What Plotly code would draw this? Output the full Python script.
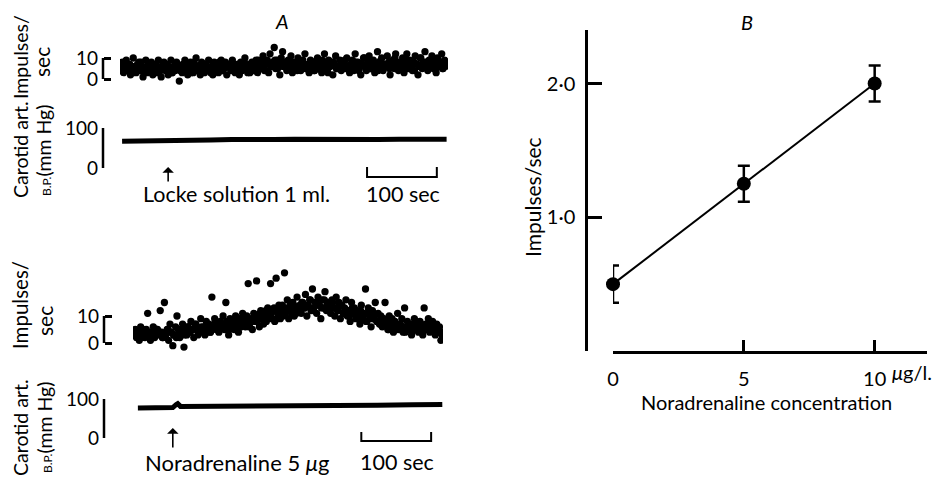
import plotly.graph_objects as go

# ---------------- data ----------------
SAMPLE_S = 2  # seconds between plotted impulse-rate samples (main series)
SAMPLE_S2 = 4  # seconds between samples of the interleaved series

# Panel A, upper record (Locke solution 1 ml) - impulses/sec
imp_top = [5,8,3,6,9,4,7,2,6,10,5,3,7,8,4,6,1,5,9,3,
           6,4,8,2,5,7,3,9,5,1,6,8,4,7,2,5,9,3,6,4,
           8,5,-1,6,3,7,9,4,2,6,8,5,3,7,10,4,6,2,8,5,
           3,7,5,9,4,6,2,8,5,7,3,6,9,4,5,8,2,6,7,4,
           9,5,3,7,6,2,8,4,6,10,5,3,7,5,8,4,6,9,3,7,
           5,8,11,4,7,9,3,12,6,8,15,5,9,7,2,10,13,6,8,4,
           9,7,11,3,6,8,5,10,7,4,8,6,12,5,7,3,9,6,8,4,
           7,10,5,8,3,6,12,7,4,9,6,8,2,7,11,5,6,9,4,7,
           8,5,10,6,3,7,9,4,12,6,8,5,2,7,10,6,4,8,11,5,
           7,9,3,6,13,8,5,10,4,7,6,11,8,2,6,9,5,12,7,4,
           8,6,10,3,7,12,5,9,6,4,8,11,7,2,6,10,5,8,13,6,
           4,9,7,11,5,8,3,10,6,7,12,5,9,6,8]
imp_top2 = [4,6,5,7,3,6,5,8,4,6,7,3,5,6,4,7,5,6,3,5,
            6,4,7,5,6,3,8,5,6,4,7,5,3,6,5,8,4,6,7,5,
            6,4,7,5,8,6,3,7,5,9,6,8,4,7,6,9,5,8,6,7,
            5,8,6,4,7,9,5,6,8,4,7,5,9,6,3,7,8,5,6,7,
            9,5,7,6,8,4,7,10,6,5,8,7,4,9,6,7,5,8,10,6,
            7,5,9,6,8,4,7,10,6,8,5,7,9,6,8,5,7]
# Panel A, upper record - carotid blood pressure (mm Hg)
bp_top_t = [3, 20, 40, 60, 69, 75, 100, 130, 160, 190, 220, 250, 280, 310, 340, 370, 400, 430, 468]
bp_top = [67, 67, 68, 68, 70, 68, 69, 70, 71, 70, 71, 72, 71, 72, 72, 71, 72, 72, 72]

# Panel A, lower record (Noradrenaline 5 ug) - impulses/sec
imp_bot = [3,5,2,4,1,6,3,4,2,5,11,3,1,4,6,2,5,5,3,12,
           4,2,15,3,5,1,7,4,-1,3,6,10,5,2,4,7,-1.5,5,3,6,
           4,8,5,2,7,6,3,5,9,4,6,3,8,5,7,4,17,6,9,5,
           7,4,8,6,10,5,15,7,3,9,6,8,5,10,7,4,9,6,11,8,
           6,10,22,7,9,5,11,8,23,10,6,12,9,7,11,8,13,10,22,9,
           12,8,24,11,14,9,13,10,26,12,16,9,14,11,15,10,13,17,12,14,
           11,15,13,18,10,14,16,12,20,13,15,11,17,14,9,16,13,19,12,15,
           14,11,16,13,10,17,12,15,9,14,11,13,16,10,12,8,15,11,13,9,
           12,10,7,14,9,11,20,8,13,10,6,12,9,15,8,11,7,10,6,9,
           15,8,5,10,7,9,4,8,6,11,5,7,9,4,13,6,8,5,7,3,
           6,9,5,7,4,8,6,3,13,7,5,9,4,6,8,5,3,7,4,6,1,3]
imp_bot2 = [3,4,2,5,3,4,2,3,5,4,2,3,5,4,3,2,4,
            5,3,6,4,5,7,4,6,5,7,4,6,8,5,7,6,8,5,7,9,6,8,7,9,6,8,
            10,8,11,9,12,10,11,13,9,12,14,11,13,12,14,11,13,
            15,13,14,16,12,15,14,13,16,14,12,15,
            13,12,14,11,12,10,13,11,9,12,10,8,11,9,10,8,7,9,
            7,5,6,8,5,7,6,4,6,5,7,5,6,4,5,7,5,6,4,5,4]
bp_bot_t = [7, 20, 40, 50, 57, 62, 64, 68, 80, 100, 150, 200, 250, 300, 350, 400, 443]
bp_bot = [77, 77, 76, 77, 78, 86, 88, 81, 81, 82, 82, 83, 83, 84, 84, 85, 86]

inject_top_t = 69    # s, Locke solution
inject_bot_t = 57    # s, noradrenaline
scale_top_start = 354
scale_bot_start = 327
scale_len = 100      # s

# Panel B
conc = [0, 5, 10]
rate = [0.50, 1.25, 2.00]
rate_err = [0.14, 0.135, 0.135]

# ---------------- figure ----------------
W, H = 940, 484
OFF = 8  # the page body offsets the plot by 8 px; positions below are screen pixels
FONT = "Lato"
def px(x):
    return (x - OFF) / W
def py(y):
    return 1 - (y - OFF) / H

t_top = [SAMPLE_S * i + 1 for i in range(len(imp_top))]
t_top2 = [SAMPLE_S2 * i + 2 for i in range(len(imp_top2))]
t_bot = [SAMPLE_S * i + 1 for i in range(len(imp_bot))]
t_bot2 = [SAMPLE_S2 * i + 2 for i in range(len(imp_bot2))]

DOT = dict(size=7.3, color="black")
fig = go.Figure()
fig.add_trace(go.Scatter(x=t_top, y=imp_top, mode="markers", xaxis="x", yaxis="y", marker=DOT))
fig.add_trace(go.Scatter(x=t_top2, y=imp_top2, mode="markers", xaxis="x", yaxis="y", marker=DOT))
fig.add_trace(go.Scatter(x=bp_top_t, y=bp_top, mode="lines", xaxis="x2", yaxis="y2",
                         line=dict(width=5, color="black")))
fig.add_trace(go.Scatter(x=t_bot, y=imp_bot, mode="markers", xaxis="x3", yaxis="y3", marker=DOT))
fig.add_trace(go.Scatter(x=t_bot2, y=imp_bot2, mode="markers", xaxis="x3", yaxis="y3", marker=DOT))
fig.add_trace(go.Scatter(x=bp_bot_t, y=bp_bot, mode="lines", xaxis="x4", yaxis="y4",
                         line=dict(width=5, color="black")))
fig.add_trace(go.Scatter(x=conc, y=rate, mode="lines+markers", xaxis="x5", yaxis="y5",
                         line=dict(width=2, color="black"),
                         marker=dict(size=14, color="black"),
                         error_y=dict(type="data", array=rate_err, thickness=2.5, width=6, color="black"),
                         cliponaxis=False))

hidden_x = dict(visible=False, showgrid=False, zeroline=False, automargin=False)
def bracket_axis(pos, lo_px, hi_px, rng, top):
    return dict(anchor="free", position=px(pos), domain=[py(lo_px), py(hi_px)], range=rng,
                showline=False, ticks="inside", ticklen=7, tickwidth=2.5, tickcolor="black",
                tickvals=[0, top], ticktext=["0", str(top)], ticklabelstandoff=5,
                showgrid=False, zeroline=False, automargin=False,
                tickfont=dict(family=FONT, size=19, color="black"))

# impulses: top record 2.1 px per imp/s (0 at 79 px), bottom 2.7 px per imp/s (0 at 343 px)
fig.update_layout(
    width=W, height=H, margin=dict(l=0, r=0, t=0, b=0, autoexpand=False),
    paper_bgcolor="white", plot_bgcolor="white", showlegend=False,
    font=dict(family=FONT, color="black"),
    xaxis=dict(domain=[px(120), px(448)], range=[0, 470], anchor="y", **hidden_x),
    xaxis2=dict(domain=[px(120), px(448)], range=[0, 470], anchor="y2", **hidden_x),
    xaxis3=dict(domain=[px(133), px(443)], range=[0, 444], anchor="y3", **hidden_x),
    xaxis4=dict(domain=[px(133), px(443)], range=[0, 444], anchor="y4", **hidden_x),
    yaxis=bracket_axis(103, 79 + 3 * 2.1, 79 - 18 * 2.1, [-3, 18], 10),
    yaxis2=bracket_axis(103, 168, 128, [0, 100], 100),
    yaxis3=bracket_axis(104, 343 + 3 * 2.7, 343 - 28 * 2.7, [-3, 28], 10),
    yaxis4=bracket_axis(104, 438, 399, [0, 100], 100),
    xaxis5=dict(domain=[px(613), px(927)], range=[0, 12], anchor="y5",
                showline=True, linewidth=2.5, linecolor="black",
                ticks="inside", ticklen=11, tickwidth=2.5, tickcolor="black",
                tickvals=[0, 5, 10], ticktext=["0", "5", "10"], ticklabelstandoff=8,
                tickfont=dict(family=FONT, size=20, color="black"),
                showgrid=False, zeroline=False, automargin=False),
    yaxis5=dict(domain=[py(351), py(30)], range=[0, 2.4], anchor="free", position=px(586),
                showline=True, linewidth=2.5, linecolor="black",
                ticks="inside", ticklen=14, tickwidth=2.5, tickcolor="black",
                tickvals=[0, 1, 2], ticktext=["", "1·0", "2·0"], ticklabelstandoff=6,
                tickfont=dict(family=FONT, size=20, color="black"),
                showgrid=False, zeroline=False, automargin=False),
)

# vertical strokes of the calibration brackets (0 to full scale on each axis)
for yr, pos, top in [("y", 103, 10), ("y2", 103, 100), ("y3", 104, 10), ("y4", 104, 100)]:
    fig.add_shape(type="line", xref="paper", yref=yr, x0=px(pos), x1=px(pos), y0=0, y1=top,
                  line=dict(color="black", width=2.5))

# scale bars (100 sec), drawn in each record's time scale
for xr, start, ytop, ybot in [("x2", scale_top_start, 167, 177), ("x4", scale_bot_start, 432, 441)]:
    fig.add_shape(type="path", xref=xr, yref="paper",
                  path=f"M {start},{py(ytop)} L {start},{py(ybot)} L {start + scale_len},{py(ybot)} L {start + scale_len},{py(ytop)}",
                  line=dict(color="black", width=2))

ann = []
def text(x, y, s, size=20, angle=0, anchor="center", italic=False):
    if italic:
        s = f"<i>{s}</i>"
    ann.append(dict(x=px(x), y=py(y), xref="paper", yref="paper", text=s, showarrow=False,
                    textangle=angle, xanchor=anchor, yanchor="middle",
                    font=dict(family=FONT, size=size, color="black")))

text(282, 21, "A", 20, italic=True)
text(747, 22, "B", 20, italic=True)
bp_title = "<span style='font-size:12px'>B.P.</span>(mm Hg)"
for (x, y, s, sz) in [(20, 57, "Impulses/", 19.5), (42, 62, "sec", 21), (20, 150, "Carotid art.", 19.5),
                      (44, 151, bp_title, 19.5),
                      (20, 305, "Impulses/", 20.5), (44, 321, "sec", 21), (20, 428, "Carotid art.", 19.5),
                      (44, 428, bp_title, 19.5)]:
    text(x, y, s, sz, -90)

text(236, 194, "Locke solution 1 ml.", 21.5)
text(403, 194, "100 sec", 21.5)
text(237, 462, "Noradrenaline 5 <i>μ</i>g", 22)
text(397, 462, "100 sec", 21.5)
text(532, 197, "Impulses/sec", 21, -90)
text(766, 402, "Noradrenaline concentration", 20)
text(890, 372, "<i>μ</i>g/l.", 20, anchor="left")

# injection arrows
ann.append(dict(x=inject_top_t, y=py(167), xref="x", yref="paper", ax=0, ay=16, text="",
                showarrow=True, arrowhead=1, arrowsize=1.2, arrowwidth=1.6, arrowcolor="black"))
ann.append(dict(x=inject_bot_t, y=py(428), xref="x3", yref="paper", ax=0, ay=21, text="",
                showarrow=True, arrowhead=1, arrowsize=1.2, arrowwidth=1.6, arrowcolor="black"))

fig.update_layout(annotations=ann)
fig.write_html("out.html")
